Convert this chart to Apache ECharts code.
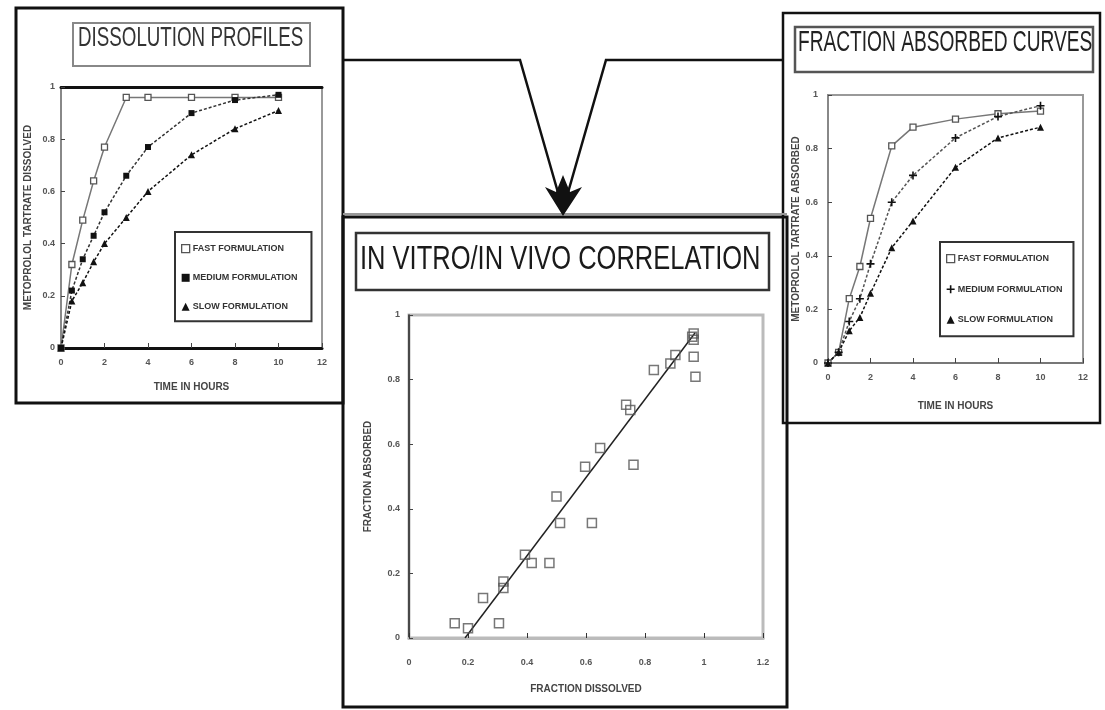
<!DOCTYPE html>
<html>
<head>
<meta charset="utf-8">
<script src="https://cdn.jsdelivr.net/npm/echarts@6/dist/echarts.min.js"></script>
<style>
  html, body { margin: 0; padding: 0; background: #fff; }
  #chart { width: 1105px; height: 710px; }
</style>
</head>
<body>
<div id="chart"></div>
<script>
// Sampling times (hours) shared by the dissolution and absorption profiles
const hours = [0, 0.5, 1, 1.5, 2, 3, 4, 6, 8, 10];

// Fraction dissolved in vitro
const dissolvedFast   = [0, 0.32, 0.49, 0.64, 0.77, 0.96, 0.96, 0.96, 0.96, 0.96];
const dissolvedMedium = [0, 0.22, 0.34, 0.43, 0.52, 0.66, 0.77, 0.90, 0.95, 0.97];
const dissolvedSlow   = [0, 0.18, 0.25, 0.33, 0.40, 0.50, 0.60, 0.74, 0.84, 0.91];

// Fraction absorbed in vivo
const absorbedFast   = [0, 0.04, 0.24, 0.36, 0.54, 0.81, 0.88, 0.91, 0.93, 0.94];
const absorbedMedium = [0, 0.04, 0.155, 0.24, 0.37, 0.60, 0.70, 0.84, 0.92, 0.96];
const absorbedSlow   = [0, 0.04, 0.12, 0.17, 0.26, 0.43, 0.53, 0.73, 0.84, 0.88];

// Correlation: fraction dissolved (x) vs fraction absorbed (y)
const corrDissolved = [0.155, 0.20, 0.251, 0.305, 0.32, 0.32, 0.393, 0.416, 0.476, 0.512, 0.50, 0.62, 0.597,
  0.648, 0.761, 0.736, 0.75, 0.83, 0.886, 0.903, 0.965, 0.965, 0.965, 0.971, 0.96];
const corrAbsorbed  = [0.046, 0.03, 0.124, 0.046, 0.175, 0.155, 0.258, 0.232, 0.232, 0.356, 0.438, 0.356, 0.53,
  0.588, 0.536, 0.722, 0.706, 0.83, 0.85, 0.876, 0.943, 0.923, 0.871, 0.809, 0.933];

// Fitted correlation line end points (dissolved, absorbed)
const fitDissolved = [0.19, 0.97];
const fitAbsorbed  = [0.0, 0.945];

// Legend labels
const legendLabels = {
  disFast: 'FAST FORMULATION', disMed: 'MEDIUM FORMULATION', disSlow: 'SLOW FORMULATION',
  absFast: 'FAST FORMULATION', absMed: 'MEDIUM FORMULATION', absSlow: 'SLOW FORMULATION'
};

const pairs = (xs, ys) => xs.map((x, i) => [x, ys[i]]);

const PLUS = 'path://M4,0H6V4H10V6H6V10H4V6H0V4H4Z';
const NARROW = '"Liberation Sans Narrow", "Liberation Sans", Arial, sans-serif';

const tickLabel = { fontSize: 9, color: '#555', fontWeight: 'bold', fontFamily: NARROW };
const axisNameStyle = { fontSize: 10, color: '#444', fontWeight: 'bold', fontFamily: NARROW };

function timeAxis(grid, gap) {
  return {
    gridIndex: grid, type: 'value', min: 0, max: 12, interval: 2,
    name: 'TIME IN HOURS', nameLocation: 'middle', nameGap: gap, nameTextStyle: axisNameStyle,
    axisLine: { lineStyle: { color: grid === 0 ? '#111' : '#777', width: grid === 0 ? 3 : 2 } },
    axisTick: { inside: true, length: 5, lineStyle: { color: '#444' } },
    axisLabel: Object.assign({ margin: 10 }, tickLabel),
    splitLine: { show: false }
  };
}
function fracAxis(grid, name, gap, margin) {
  return {
    gridIndex: grid, type: 'value', min: 0, max: 1, interval: 0.2,
    name: name, nameLocation: 'middle', nameGap: gap, nameTextStyle: axisNameStyle,
    axisLine: { lineStyle: { color: grid === 1 ? '#222' : '#888', width: grid === 1 ? 1.5 : 2 } },
    axisTick: { inside: true, length: 4, lineStyle: { color: '#444' } },
    axisLabel: Object.assign({ margin: margin }, tickLabel),
    splitLine: { show: false }
  };
}

const hollowSquare = { color: '#fff', borderColor: '#555', borderWidth: 1.3 };
const dark = { color: '#111' };

function profile(name, x, y, values, symbol, size, itemStyle, lineStyle) {
  return {
    name: name, type: 'line', xAxisIndex: x, yAxisIndex: y,
    data: pairs(hours, values), symbol: symbol, symbolSize: size,
    showSymbol: true, itemStyle: itemStyle, lineStyle: lineStyle, z: 3
  };
}

function legendBox(left, top, padding, gap, names, icons, styles) {
  return {
    orient: 'vertical', left: left, top: top,
    padding: padding, itemGap: gap, itemWidth: 8, itemHeight: 8,
    borderColor: '#333', borderWidth: 2, backgroundColor: '#fff',
    selectedMode: false,
    formatter: n => legendLabels[n],
    textStyle: { fontSize: 9, fontWeight: 'bold', color: '#333', fontFamily: NARROW, padding: [0, 0, 0, -2] },
    data: names.map((n, i) => ({ name: n, icon: icons[i], itemStyle: styles[i] }))
  };
}

function titleText(x, y, text, size, scaleX, color) {
  return {
    type: 'text', x: x, y: y, scaleX: scaleX, z: 10,
    style: { text: text, fontSize: size, fontFamily: '"Liberation Sans", Arial, sans-serif',
      fill: color, verticalAlign: 'middle', align: 'left' }
  };
}
function box(x1, y1, x2, y2, color, width) {
  return { type: 'rect', z: 5, shape: { x: x1, y: y1, width: x2 - x1, height: y2 - y1 },
    style: { fill: 'none', stroke: color, lineWidth: width } };
}
function line(points, color, width) {
  return { type: 'polyline', z: 6, shape: { points: points }, style: { stroke: color, lineWidth: width, fill: 'none' } };
}

const option = {
  animation: false,
  backgroundColor: '#fff',
  grid: [
    { left: 61, top: 87, width: 261, height: 261, show: true, borderColor: '#999', borderWidth: 2 },
    { left: 409, top: 315, width: 354, height: 323, show: true, borderColor: '#bbb', borderWidth: 3 },
    { left: 828, top: 95, width: 255, height: 268, show: true, borderColor: '#999', borderWidth: 2 }
  ],
  xAxis: [
    timeAxis(0, 34),
    {
      gridIndex: 1, type: 'value', min: 0, max: 1.2, interval: 0.2,
      name: 'FRACTION DISSOLVED', nameLocation: 'middle', nameGap: 46, nameTextStyle: axisNameStyle,
      axisLine: { lineStyle: { color: '#bbb', width: 3 } },
      axisTick: { inside: true, length: 5, lineStyle: { color: '#333' } },
      axisLabel: Object.assign({ margin: 20 }, tickLabel),
      splitLine: { show: false }
    },
    timeAxis(2, 38),
    // dark upper frame line of the dissolution plot
    { gridIndex: 0, type: 'value', position: 'top', min: 0, max: 12,
      axisLine: { lineStyle: { color: '#111', width: 3 } }, axisTick: { show: false },
      axisLabel: { show: false }, splitLine: { show: false } }
  ],
  yAxis: [
    fracAxis(0, 'METOPROLOL TARTRATE DISSOLVED', 28, 6),
    fracAxis(1, 'FRACTION ABSORBED', 36, 9),
    fracAxis(2, 'METOPROLOL TARTRATE ABSORBED', 26, 10)
  ],
  legend: [
    legendBox(175, 232, [12, 14, 10, 6], 20, ['disFast', 'disMed', 'disSlow'], ['rect', 'rect', 'triangle'],
      [hollowSquare, dark, dark]),
    legendBox(940, 242, [12, 11, 12, 6], 21.5, ['absFast', 'absMed', 'absSlow'], ['rect', PLUS, 'triangle'],
      [hollowSquare, dark, dark])
  ],
  series: [
    profile('disFast', 0, 0, dissolvedFast, 'rect', 6, hollowSquare, { color: '#777', width: 1.5 }),
    profile('disMed', 0, 0, dissolvedMedium, 'rect', 6, dark, { color: '#333', width: 1.5, type: [3, 2] }),
    profile('disSlow', 0, 0, dissolvedSlow, 'triangle', 7, dark, { color: '#111', width: 1.5, type: [3, 2] }),
    profile('absFast', 2, 2, absorbedFast, 'rect', 6, hollowSquare, { color: '#777', width: 1.5 }),
    profile('absMed', 2, 2, absorbedMedium, PLUS, 8, dark, { color: '#555', width: 1.5, type: [3, 2] }),
    profile('absSlow', 2, 2, absorbedSlow, 'triangle', 7, dark, { color: '#111', width: 1.5, type: [3, 2] }),
    {
      name: 'fit', type: 'line', xAxisIndex: 1, yAxisIndex: 1,
      data: pairs(fitDissolved, fitAbsorbed), showSymbol: false, symbol: 'none',
      lineStyle: { color: '#222', width: 1.5 }, z: 2
    },
    {
      name: 'points', type: 'scatter', xAxisIndex: 1, yAxisIndex: 1,
      data: pairs(corrDissolved, corrAbsorbed), symbol: 'rect', symbolSize: 9,
      itemStyle: { color: 'rgba(255,255,255,0)', borderColor: '#555', borderWidth: 1.5 }, z: 3
    }
  ],
  graphic: [
    // panel frames
    box(16, 8, 343, 403, '#111', 3),
    box(343, 217, 787, 707, '#111', 3),
    box(783, 13, 1100, 423, '#111', 2.5),
    line([[343, 214], [787, 214]], '#999', 2),
    // connectors leading to the correlation panel
    line([[343, 60], [520, 60], [563, 210]], '#111', 2.5),
    line([[783, 60], [606, 60], [563, 210]], '#111', 2.5),
    { type: 'polygon', z: 7, shape: { points: [[545, 187], [556, 192], [563, 175], [570, 192], [582, 187], [563, 216]] },
      style: { fill: '#111' } },
    // title boxes
    box(73, 23, 310, 66, '#888', 2),
    box(356, 233, 769, 290, '#333', 2.5),
    box(795, 27, 1093, 72, '#555', 2.5),
    titleText(78, 38, 'DISSOLUTION PROFILES', 28, 0.67, '#333'),
    titleText(360, 260, 'IN VITRO/IN VIVO CORRELATION', 34, 0.75, '#1a1a1a'),
    titleText(798, 43, 'FRACTION ABSORBED CURVES', 29, 0.66, '#222')
  ]
};

const chart = echarts.init(document.getElementById('chart'), null, { renderer: 'canvas' });
chart.setOption(option);
</script>
</body>
</html>
